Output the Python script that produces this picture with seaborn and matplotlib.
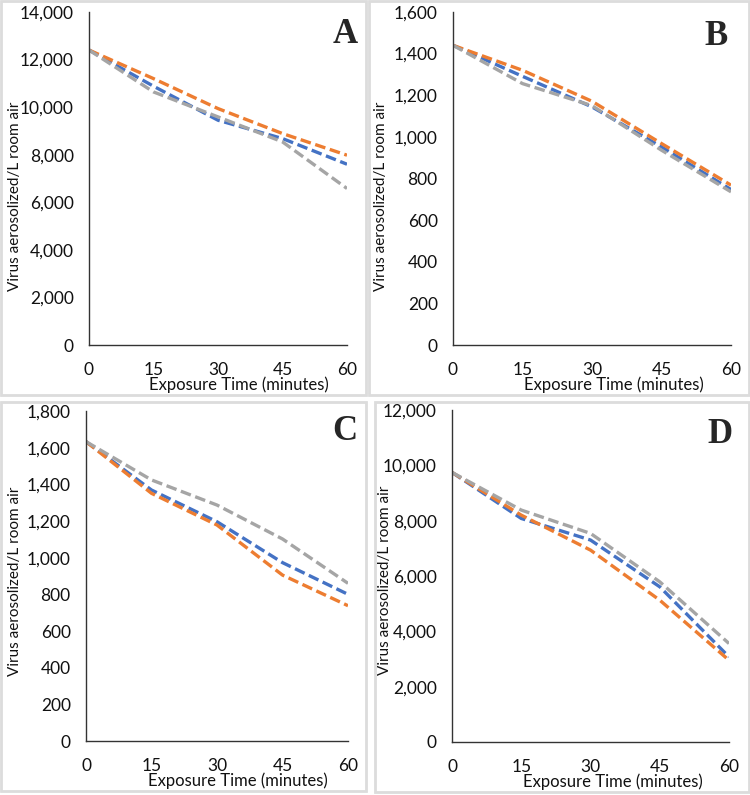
import seaborn as sns
import matplotlib.pyplot as plt
import pandas as pd
from matplotlib.patches import Rectangle
from matplotlib.ticker import FuncFormatter

minutes = [0, 15, 30, 45, 60]
series_names = ['Blue', 'Orange', 'Gray']
colors = {'Blue': '#4472C4', 'Orange': '#ED7D31', 'Gray': '#A5A5A5'}

# panel A
a_blue = [12400, 10880, 9450, 8680, 7600]
a_orange = [12400, 11200, 9940, 8890, 7980]
a_gray = [12400, 10640, 9590, 8540, 6580]
# panel B
b_blue = [1440, 1291, 1144, 952, 747]
b_orange = [1440, 1320, 1171, 968, 768]
b_gray = [1440, 1256, 1150, 936, 736]
# panel C
c_blue = [1633, 1369, 1196, 973, 800]
c_orange = [1633, 1351, 1178, 905, 738]
c_gray = [1633, 1424, 1287, 1102, 860]
# panel D
d_blue = [9745, 8080, 7300, 5610, 3076]
d_orange = [9745, 8200, 6936, 5127, 2955]
d_gray = [9745, 8383, 7540, 5790, 3560]

y_max = {'A': 14000, 'B': 1600, 'C': 1800, 'D': 12000}
y_step = {'A': 2000, 'B': 200, 'C': 200, 'D': 2000}

sns.set_style('white')
plt.rcParams['font.family'] = ['Lato', 'DejaVu Sans']

fig = plt.figure(figsize=(7.5, 7.95), dpi=100)
W, H = 750, 795

def px_rect(l, t, r, b):
    return [l / W, 1 - b / H, (r - l) / W, (b - t) / H]

# light gray frame around each panel
for l, t, r, b in [(1, 1, 366, 395), (369, 1, 749, 395), (1, 402, 366, 791), (375, 402, 749, 792)]:
    fig.add_artist(Rectangle((l / W, 1 - b / H), (r - l) / W, (b - t) / H,
                             transform=fig.transFigure, fill=False,
                             edgecolor='#DCDCDC', linewidth=2))

panels = [
    ('A', [a_blue, a_orange, a_gray], px_rect(89, 12, 347, 345), (358, 18), (-0.258, 0.447)),
    ('B', [b_blue, b_orange, b_gray], px_rect(453, 12, 731, 345), (728, 20), (-0.235, 0.447)),
    ('C', [c_blue, c_orange, c_gray], px_rect(86, 411, 348, 741), (357, 415), (-0.245, 0.485)),
    ('D', [d_blue, d_orange, d_gray], px_rect(452, 410, 729, 742), (733, 418), (-0.215, 0.488)),
]

for letter, values, rect, (lx, ly), ylab_pos in panels:
    ax = fig.add_axes(rect)
    df = pd.DataFrame({
        'minutes': minutes * 3,
        'value': values[0] + values[1] + values[2],
        'series': [s for s in series_names for _ in minutes],
    })
    sns.lineplot(data=df, x='minutes', y='value', hue='series', style='series',
                 palette=colors, dashes={s: (3.2, 1.4) for s in series_names},
                 linewidth=2.4, legend=False, ax=ax)
    ax.set_xlim(0, 60)
    ax.set_ylim(0, y_max[letter])
    ax.set_xticks(minutes)
    ax.set_yticks(range(0, y_max[letter] + 1, y_step[letter]))
    ax.yaxis.set_major_formatter(FuncFormatter(lambda v, p: f'{v:,.0f}'))
    ax.tick_params(axis='both', direction='out', length=5, width=1,
                   color='#333333', labelsize=12.5, labelcolor='#111111')
    ax.tick_params(axis='x', pad=7)
    ax.tick_params(axis='y', pad=6)
    for side in ['top', 'right']:
        ax.spines[side].set_visible(False)
    for side in ['left', 'bottom']:
        ax.spines[side].set_color('#333333')
        ax.spines[side].set_linewidth(1)
    ax.set_xlabel('Exposure Time (minutes)', fontsize=12, color='#111111')
    ax.xaxis.set_label_coords(0.58, -0.095)
    ax.set_ylabel('Virus aerosolized/L room air', fontsize=11, color='#111111')
    ax.yaxis.set_label_coords(*ylab_pos)
    fig.text(lx / W, 1 - ly / H, letter, ha='right', va='top',
             family='Liberation Serif', fontweight='bold', fontsize=25)

fig.savefig('out.png', dpi=100)
